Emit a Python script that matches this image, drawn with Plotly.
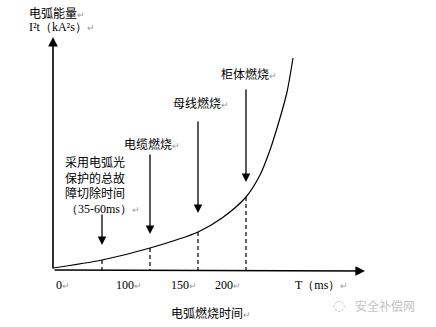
import plotly.graph_objects as go

# Schematic arc-energy curve (arbitrary units: x = burn time, y = I²t)
curve_t = [0, 49, 97, 145, 169, 193, 207, 217, 227, 234, 240]
curve_e = [2, 10, 22, 38, 52, 73, 95, 120, 152, 178, 212]

# Event markers along the curve (index into the curve arrays)
event_idx = [1, 2, 3, 5]
event_arrow_top = [57, 117, 150, 182]
event_arrow_tip = [25, 36, 57, 88]

# Axis tick labels (schematic positions)
tick_pos = [1, 61, 116, 160]
tick_text = ["0", "100", "150", "200"]

SANS = "Noto Sans CJK SC"
SERIF = "Liberation Serif"
PM = '<span style="color:#9a9a9a;font-size:9px">↵</span>'

fig = go.Figure()

# main curve
fig.add_trace(go.Scatter(
    x=curve_t, y=curve_e, mode="lines",
    line=dict(color="black", width=1.2, shape="spline", smoothing=0.8),
    hoverinfo="skip", showlegend=False))

# dashed drop lines from the curve to the time axis
for i in event_idx:
    fig.add_trace(go.Scatter(
        x=[curve_t[i], curve_t[i]], y=[curve_e[i], 0], mode="lines",
        line=dict(color="black", width=1.2, dash="4px,3px"),
        hoverinfo="skip", showlegend=False))

ann = []

# axes with arrowheads
ann.append(dict(x=0, y=233, ax=0, ay=0, xref="x", yref="y", axref="x", ayref="y",
                text="", showarrow=True, arrowhead=2, arrowsize=1.2, arrowwidth=1.6,
                arrowcolor="black"))
ann.append(dict(x=312, y=-1, ax=0, ay=0, xref="x", yref="y", axref="x", ayref="y",
                text="", showarrow=True, arrowhead=2, arrowsize=1.2, arrowwidth=1.6,
                arrowcolor="black"))

# downward event arrows
for i, top, tip in zip(event_idx, event_arrow_top, event_arrow_tip):
    ann.append(dict(x=curve_t[i], y=tip, ax=curve_t[i], ay=top, xref="x", yref="y",
                    axref="x", ayref="y", text="", showarrow=True, arrowhead=2,
                    arrowsize=1.3, arrowwidth=1.3, arrowcolor="black"))


def label(x, y, text, family=SANS, size=12, anchor="left", color="black"):
    ann.append(dict(x=x, y=y, xref="x", yref="y", text=text, showarrow=False,
                    xanchor=anchor, yanchor="middle", align="left",
                    font=dict(family=family, size=size, color=color)))


# axis titles
label(-26, 258, "电弧能量" + PM)
label(-26, 243, "I²t（kA²s）" + PM, family=SERIF, size=12)
label(116, -42, "电弧燃烧时间" + PM)
label(240, -15, "T（ms）" + PM, family=SERIF, size=12)

# tick labels
for p, t in zip(tick_pos, tick_text):
    label(p, -15, t + PM, family=SERIF, size=12)

# event labels
label(10, 93, "采用电弧光<br>保护的总故<br>障切除时间")
label(11, 61, "（35-60ms）" + PM, family=SERIF, size=12)
label(69, 127, "电缆燃烧" + PM)
label(118, 168, "母线燃烧" + PM)
label(166, 197, "柜体燃烧" + PM)

# watermark
label(300, -35, "安全补偿网", size=12, color="#c4c4c4")
label(278, -35, "◌", family="DejaVu Sans", size=14, color="#c4c4c4")

fig.update_layout(
    width=436, height=327,
    margin=dict(l=0, r=0, t=0, b=0),
    paper_bgcolor="white", plot_bgcolor="white",
    xaxis=dict(range=[-53, 383], visible=False, fixedrange=True),
    yaxis=dict(range=[-57, 270], visible=False, fixedrange=True),
    annotations=ann,
    showlegend=False,
)

fig.write_html("out.html")
